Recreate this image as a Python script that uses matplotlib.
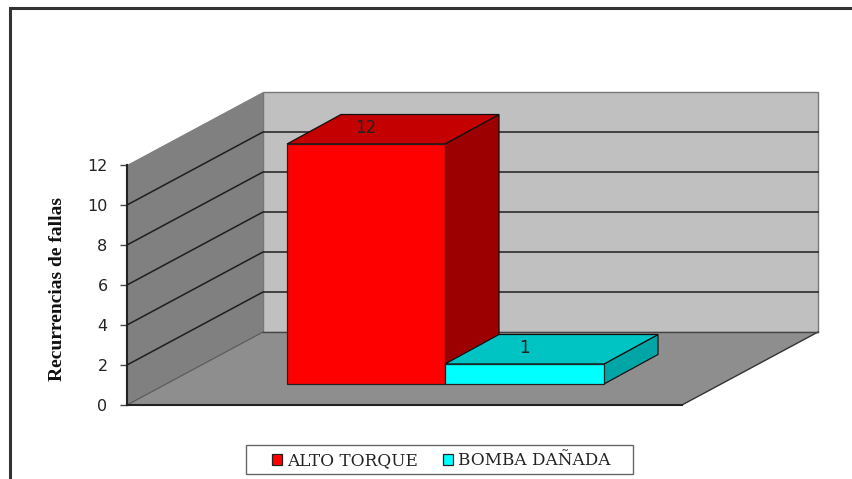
import matplotlib
matplotlib.use("Agg")
import matplotlib.pyplot as plt
from matplotlib.patches import Polygon, Rectangle

categories = ["ALTO TORQUE", "BOMBA DAÑADA"]
values = [12, 1]
y_ticks = [0, 2, 4, 6, 8, 10, 12]
y_label = "Recurrencias de fallas"

front_colors = ["#FF0000", "#00FFFF"]
top_colors = ["#C40000", "#00C4C4"]
side_colors = ["#9C0000", "#00A6A6"]

W, H = 853, 479
PX = 20.0                # pixels per value unit
Y0 = 405                 # pixel row of value 0
X0, X1 = 127, 682        # floor front edge
DX, DY = 136, 73 / PX    # wall depth
BAR_X = [287, 445]
BAR_W = [158, 159]
BAR_BASE = (Y0 - 384) / PX
BDX, BDY = 54, 29.5 / PX  # bar depth

fig = plt.figure(figsize=(W / 100, H / 100), dpi=100)
ax = fig.add_axes([0, 0, 1, 1])
ax.set_xlim(0, W)
ax.set_ylim((Y0 - H) / PX, Y0 / PX)
ax.patch.set_alpha(0)
top = max(y_ticks)

# outer frame
ax.add_patch(Rectangle((10, ax.get_ylim()[0] - 2), W + 20, (Y0 - 8) / PX - ax.get_ylim()[0] + 2,
                       fc="white", ec="#333333", lw=2.2, zorder=0))

# walls and floor
ax.add_patch(Polygon([(X0 + DX, DY), (X1 + DX, DY), (X1 + DX, top + DY), (X0 + DX, top + DY)],
                     fc="#C0C0C0", ec="#777777", lw=1, zorder=1))
ax.add_patch(Polygon([(X0, 0), (X0 + DX, DY), (X0 + DX, top + DY), (X0, top)],
                     fc="#808080", ec="none", zorder=1))
ax.add_patch(Polygon([(X0, 0), (X1, 0), (X1 + DX, DY), (X0 + DX, DY)],
                     fc="#8E8E8E", ec="none", zorder=1))
ax.plot([X1, X1 + DX], [0, DY], color="#333333", lw=1, zorder=2)
ax.plot([X0, X0 + DX], [0, DY], color="#555555", lw=0.8, zorder=2)
ax.plot([X0 + DX, X1 + DX], [DY, DY], color="#444444", lw=1, zorder=2)

# gridlines
for v in y_ticks[1:-1]:
    ax.plot([X0, X0 + DX, X1 + DX], [v, v + DY, v + DY], color="#1E1E1E", lw=1.1, zorder=2)

# bars
for i, (x, w, v) in enumerate(zip(BAR_X, BAR_W, values)):
    z = 3 + i
    tv = BAR_BASE + v
    ax.add_patch(Polygon([(x + w, BAR_BASE), (x + w + BDX, BAR_BASE + BDY), (x + w + BDX, tv + BDY), (x + w, tv)],
                         fc=side_colors[i], ec="#111111", lw=0.9, zorder=z))
    ax.add_patch(Polygon([(x, tv), (x + w, tv), (x + w + BDX, tv + BDY), (x + BDX, tv + BDY)],
                         fc=top_colors[i], ec="#111111", lw=0.9, zorder=z))
    ax.bar(x, v, width=w, bottom=BAR_BASE, align="edge", color=front_colors[i],
           edgecolor="#222222", linewidth=0.9, zorder=z, label=categories[i])
    ax.text(x + w / 2, tv + BDY / 2 + 0.05, str(v), ha="center", va="center",
            fontsize=12, family="DejaVu Sans", color="#222222", zorder=10)

# axes
for s in ("top", "right"):
    ax.spines[s].set_visible(False)
ax.spines["left"].set_position(("data", X0))
ax.spines["left"].set_bounds(0, top)
ax.spines["left"].set_linewidth(1.5)
ax.spines["left"].set_color("#222222")
ax.spines["bottom"].set_position(("data", 0))
ax.spines["bottom"].set_bounds(X0, X1)
ax.spines["bottom"].set_linewidth(1.5)
ax.spines["bottom"].set_color("#222222")
ax.spines["left"].set_zorder(6)
ax.spines["bottom"].set_zorder(6)
ax.set_xticks([])
ax.set_yticks(y_ticks)
ax.tick_params(axis="y", direction="out", length=5, width=1, color="#444444",
               labelcolor="#222222", pad=9)
for t in ax.get_yticklabels():
    t.set_fontfamily("DejaVu Sans")
    t.set_fontsize(11.5)

ax.text(58, 5.8, y_label, rotation=90, ha="center", va="center",
        family="Liberation Serif", fontweight="bold", fontsize=14, color="#111111")

# legend box
ax.add_patch(Rectangle((246.5, (Y0 - 473.5) / PX), 387, 28.5 / PX, fc="white", ec="#666666", lw=1, zorder=7))
leg = ax.legend(loc="center", bbox_to_anchor=(441 / W, 1 - 460.5 / H), ncol=2, frameon=False,
                prop={"family": "DejaVu Serif", "size": 12.2},
                handlelength=0.62, handleheight=0.62, handletextpad=0.25,
                columnspacing=1.5, borderpad=0.1, borderaxespad=0)
leg.set_zorder(8)
for text in leg.get_texts():
    text.set_color("#222222")

fig.savefig("out.png", dpi=100)
